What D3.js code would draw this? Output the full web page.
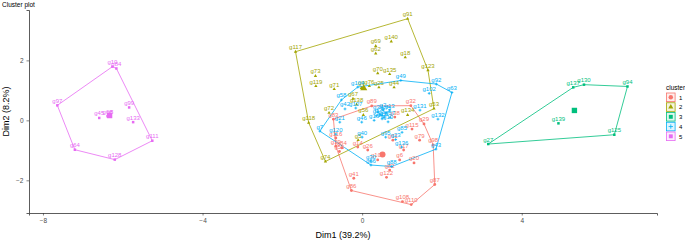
<!DOCTYPE html>
<html>
<head>
<meta charset="utf-8">
<script src="https://cdn.jsdelivr.net/npm/d3@7"></script>
<style>
  body { margin: 0; background: #fff; }
  text { font-family: "Liberation Sans", Arial, sans-serif; }
</style>
</head>
<body>
<div id="chart"></div>
<script>
// cluster ids and colours (ggplot default hues)
var clusters = ["1", "2", "3", "4", "5"];
var colors = ["#F8766D", "#A3A500", "#00BF7D", "#00B0F6", "#E76BF3"];

// points per cluster: [label, Dim1, Dim2]
var cluster1 = [
  ["g83", -0.72, 0.04], ["g89", 0.24, 0.48], ["g32", 1.22, 0.49], ["g29", 1.55, -0.12],
  ["g115", 1.25, -0.29], ["g98", 1.78, -0.82], ["g87", 1.82, -2.14], ["g110", 1.23, -2.81],
  ["g108", 1.01, -2.71], ["g86", -0.27, -2.34], ["g41", -0.21, -1.93], ["g55", -0.57, -1.04],
  ["g116", -0.66, -0.59], ["g39", -0.66, -0.86], ["g84", -0.51, -0.92], ["g14", -0.11, -0.89],
  ["g26", 0.14, -0.99], ["g100", 0.39, -1.32], ["g6", 0.94, -1.32], ["g20", 1.30, -1.42],
  ["g82", 0.69, -1.66], ["g122", 0.61, -1.90], ["g61", 0.77, -0.66], ["g17", 1.04, -0.99],
  ["g79", 1.44, -0.66], ["g38", 0.82, 0.11]
];
var cluster2 = [
  ["g91", 1.14, 3.39], ["g117", -1.67, 2.29], ["g140", 0.73, 2.63], ["g69", 0.34, 2.48],
  ["g62", 0.34, 2.23], ["g18", 1.08, 2.10], ["g123", 1.65, 1.67], ["g53", 1.80, 0.39],
  ["g74", -0.92, -1.37], ["g118", -1.34, -0.08], ["g73", -1.17, 1.48], ["g119", -1.16, 1.14],
  ["g71", -0.70, 1.04], ["g70", 0.39, 1.57], ["g135", 0.69, 1.54], ["g76", 0.18, 1.14],
  ["g25", 0.42, 1.10], ["g44", 0.80, 1.10], ["g67", -0.23, 0.72], ["g138", -0.14, 0.53],
  ["g72", -0.83, 0.25], ["g56", 0.03, 0.18], ["g5", -0.10, -0.66], ["g134", 1.14, 0.18],
  ["g9", -0.02, 1.08]
];
var cluster3 = [
  ["g27", 3.16, -0.79], ["g137", 5.29, 1.10], ["g130", 5.56, 1.19], ["g94", 6.65, 1.13],
  ["g125", 6.32, -0.48], ["g139", 4.92, -0.10]
];
var cluster4 = [
  ["g104", -0.11, 1.11], ["g49", 0.97, 1.33], ["g92", 1.86, 1.21], ["g63", 2.25, 0.93],
  ["g43", 1.85, -0.96], ["g88", 0.74, -1.54], ["g66", 0.22, -1.49], ["g7", -1.06, -0.36],
  ["g58", -0.52, 0.68], ["g102", 1.68, 0.90], ["g131", 1.45, 0.34], ["g132", 1.90, 0.04],
  ["g13", 0.69, 0.34], ["g107", -0.16, 0.41], ["g42", -0.43, 0.38], ["g21", -0.56, -0.06],
  ["g120", -0.66, -0.46], ["g46", -0.01, -0.06], ["g40", 0.00, -0.56], ["g30", 0.22, -1.36],
  ["g23", 0.84, -0.64], ["g85", 1.00, -0.40], ["g136", 0.99, -0.89], ["g95", 0.59, -0.56],
  ["g37", 0.45, 0.20], ["g75", 0.60, 0.25], ["g47", 0.55, 0.10], ["g1", 0.35, 0.15],
  ["g12", 0.50, 0.05], ["g34", 0.40, 0.28], ["g57", 0.70, 0.10], ["g16", 0.30, 0.00],
  ["g2", 0.52, 0.35], ["g10", 0.65, -0.05]
];
var cluster5 = [
  ["g97", -7.64, 0.50], ["g64", -7.20, -0.98], ["g128", -6.20, -1.31], ["g111", -5.26, -0.68],
  ["g99", -5.84, 0.43], ["g133", -5.74, -0.06], ["g10", -6.26, 1.79], ["g84", -6.16, 1.73],
  ["g45", -6.59, 0.08], ["g68", -6.38, 0.14], ["g8", -6.32, 0.12]
];
var centers = [[0.51, -1.14], [0.04, 1.07], [5.32, 0.33], [0.50, 0.15], [-6.33, 0.16]];

var xTicks = [-8, -4, 0, 4];
var yTicks = [-2, 0, 2];

var groups = [cluster1, cluster2, cluster3, cluster4, cluster5];

var W = 685, H = 241;
var margin = {top: 10, right: 28, bottom: 28, left: 29};
var pw = 657 - margin.left, ph = 213 - margin.top;

var svg = d3.select("#chart").append("svg")
    .attr("width", W).attr("height", H);

var x = d3.scaleLinear().domain([-8.35, 7.39]).range([0, pw]);
var y = d3.scaleLinear().domain([-3.09, 3.68]).range([ph, 0]);

var g = svg.append("g")
    .attr("transform", "translate(" + margin.left + "," + margin.top + ")");

// shapes for each cluster
function shapePath(i, s) {
  if (i == 0) return d3.symbol(d3.symbolCircle, s * s * 0.8)();
  if (i == 1) return d3.symbol(d3.symbolTriangle, s * s * 0.6)();
  return d3.symbol(d3.symbolSquare, s * s * 0.8)();
}
function drawMark(sel, i, cx, cy, s) {
  if (i == 3) {
    sel.append("path")
        .attr("d", "M" + (cx - s) + "," + cy + "H" + (cx + s) + "M" + cx + "," + (cy - s) + "V" + (cy + s))
        .attr("stroke", colors[i]).attr("stroke-width", 0.8).attr("fill", "none");
  } else {
    sel.append("path")
        .attr("d", shapePath(i, s * 2))
        .attr("transform", "translate(" + cx + "," + cy + ")")
        .attr("fill", colors[i]);
  }
}

// hulls
groups.forEach(function(pts, i) {
  var hull = d3.polygonHull(pts.map(function(d) { return [x(d[1]), y(d[2])]; }));
  g.append("path")
      .attr("d", "M" + hull.join("L") + "Z")
      .attr("fill", "none")
      .attr("stroke", colors[i]).attr("stroke-width", 0.8);
});

// points + labels
groups.forEach(function(pts, i) {
  var gg = g.append("g");
  pts.forEach(function(d) {
    drawMark(gg, i, x(d[1]), y(d[2]), 1.4);
  });
  gg.selectAll("text").data(pts).enter().append("text")
      .attr("x", function(d) { return x(d[1]); })
      .attr("y", function(d) { return y(d[2]) - 2.5; })
      .attr("text-anchor", "middle")
      .attr("font-size", 6)
      .attr("fill", colors[i])
      .text(function(d) { return d[0]; });
});

// cluster centres
centers.forEach(function(c, i) {
  drawMark(g, i, x(c[0]), y(c[1]), 3);
});

// axes
var xAxis = g.append("g")
    .attr("transform", "translate(0," + ph + ")")
    .call(d3.axisBottom(x).tickValues(xTicks).tickFormat(d3.format("d")).tickSize(2.5).tickPadding(3));
var yAxis = g.append("g")
    .call(d3.axisLeft(y).tickValues(yTicks).tickFormat(d3.format("d")).tickSize(2.5).tickPadding(3));
[xAxis, yAxis].forEach(function(a) {
  a.select(".domain").attr("stroke", "#333").attr("stroke-width", 0.8);
  a.selectAll(".tick line").attr("stroke", "#333").attr("stroke-width", 0.6);
  a.selectAll(".tick text").attr("fill", "#4d4d4d").attr("font-size", 6.5)
      .attr("font-family", "Liberation Sans, Arial, sans-serif");
});

// titles
svg.append("text").attr("x", 2).attr("y", 7).attr("font-size", 6.5).attr("fill", "#000")
    .text("Cluster plot");
svg.append("text").attr("x", margin.left + pw / 2).attr("y", 238)
    .attr("text-anchor", "middle").attr("font-size", 9).text("Dim1 (39.2%)");
svg.append("text")
    .attr("transform", "translate(9," + (margin.top + ph / 2) + ") rotate(-90)")
    .attr("text-anchor", "middle").attr("font-size", 9).text("Dim2 (8.2%)");

// legend
var lg = svg.append("g").attr("transform", "translate(666,0)");
lg.append("text").attr("x", 0).attr("y", 89.5).attr("font-size", 6.5).text("cluster");
clusters.forEach(function(c, i) {
  var cy = 97.3 + i * 9.75;
  lg.append("rect").attr("x", 0.5).attr("y", cy - 4.3).attr("width", 8.6).attr("height", 8.6)
      .attr("fill", colors[i]).attr("fill-opacity", 0.12)
      .attr("stroke", colors[i]).attr("stroke-width", 0.8);
  drawMark(lg, i, 4.8, cy, 2.2);
  lg.append("text").attr("x", 13).attr("y", cy + 2.2).attr("font-size", 6).text(c);
});
</script>
</body>
</html>
